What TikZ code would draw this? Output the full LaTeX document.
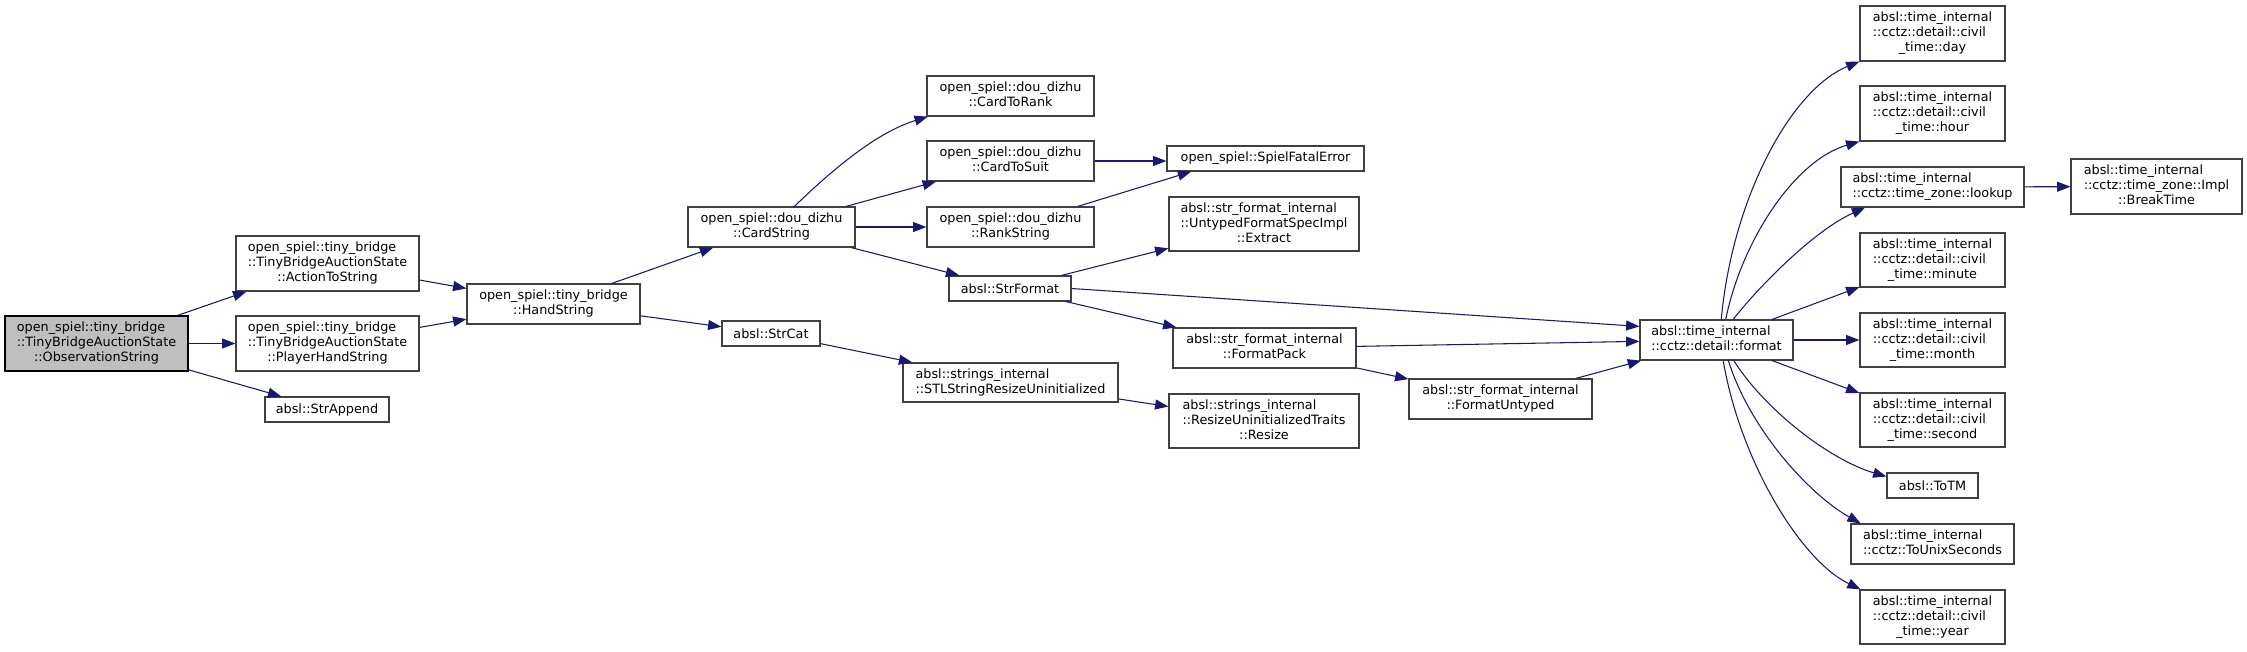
\documentclass[tikz,border=0pt]{standalone}
\usepackage{fontspec}
\setmainfont{DejaVu Sans}
\usetikzlibrary{arrows.meta}
\definecolor{edgecol}{HTML}{191970}
\definecolor{boxborder}{HTML}{404040}
\definecolor{rootfill}{HTML}{BFBFBF}
\newcommand\Lines[2]{\begin{tabular}{@{}l@{}}#1\\\multicolumn{1}{@{}c@{}}{#2}\end{tabular}}
\newcommand\mkbox[7][]{\node[gbox,#1,minimum width={(#5-#3)*0.75pt},minimum height={(#6-#4)*0.75pt}] (#2) at ({(#3+#5)/2},{(#4+#6)/2}) {#7};}
\tikzset{
  gbox/.style={draw=boxborder, fill=white, line width=0.9pt, inner sep=0pt,
    font=\fontsize{9.6pt}{11.25pt}\selectfont},
  gedge/.style={draw=edgecol, line width=0.8pt, -{Triangle[length=10pt,width=7.5pt]}}
}
\begin{document}
\begin{tikzpicture}[x=0.75pt,y=-0.75pt]
\useasboundingbox (0,0) rectangle (2247,651);
% nodes
\mkbox[fill=rootfill,draw=black]{obs}{5}{316}{188}{371}{\Lines{open\_spiel::tiny\_bridge\\::TinyBridgeAuctionState}{::ObservationString}}
\mkbox{act}{236}{236}{419}{291}{\Lines{open\_spiel::tiny\_bridge\\::TinyBridgeAuctionState}{::ActionToString}}
\mkbox{phs}{236}{316}{419}{371}{\Lines{open\_spiel::tiny\_bridge\\::TinyBridgeAuctionState}{::PlayerHandString}}
\mkbox{sapp}{265}{397}{389}{422}{absl::StrAppend}
\mkbox{hand}{467}{284}{640}{324}{\Lines{open\_spiel::tiny\_bridge}{::HandString}}
\mkbox{cstr}{688}{207}{855}{247}{\Lines{open\_spiel::dou\_dizhu}{::CardString}}
\mkbox{scat}{722}{321}{820}{346}{absl::StrCat}
\mkbox{crank}{927}{76}{1094}{116}{\Lines{open\_spiel::dou\_dizhu}{::CardToRank}}
\mkbox{csuit}{927}{141}{1094}{181}{\Lines{open\_spiel::dou\_dizhu}{::CardToSuit}}
\mkbox{rstr}{927}{207}{1094}{247}{\Lines{open\_spiel::dou\_dizhu}{::RankString}}
\mkbox{sfmt}{949}{276}{1071}{301}{absl::StrFormat}
\mkbox{sfe}{1167}{146}{1364}{171}{open\_spiel::SpielFatalError}
\mkbox{extr}{1169}{197}{1359}{251}{\Lines{absl::str\_format\_internal\\::UntypedFormatSpecImpl}{::Extract}}
\mkbox{fpack}{1173}{328}{1356}{368}{\Lines{absl::str\_format\_internal}{::FormatPack}}
\mkbox{stl}{903}{363}{1118}{402}{\Lines{absl::strings\_internal}{::STLStringResizeUninitialized}}
\mkbox{resize}{1169}{394}{1359}{448}{\Lines{absl::strings\_internal\\::ResizeUninitializedTraits}{::Resize}}
\mkbox{funt}{1409}{379}{1592}{419}{\Lines{absl::str\_format\_internal}{::FormatUntyped}}
\mkbox{fmt}{1640}{320}{1793}{360}{\Lines{absl::time\_internal}{::cctz::detail::format}}
\mkbox{day}{1860}{6}{2005}{61}{\Lines{absl::time\_internal\\::cctz::detail::civil}{\_time::day}}
\mkbox{hour}{1860}{86}{2005}{141}{\Lines{absl::time\_internal\\::cctz::detail::civil}{\_time::hour}}
\mkbox{lookup}{1841}{167}{2024}{207}{\Lines{absl::time\_internal}{::cctz::time\_zone::lookup}}
\mkbox{btime}{2071}{159}{2242}{214}{\Lines{absl::time\_internal\\::cctz::time\_zone::Impl}{::BreakTime}}
\mkbox{minute}{1860}{233}{2005}{287}{\Lines{absl::time\_internal\\::cctz::detail::civil}{\_time::minute}}
\mkbox{month}{1860}{313}{2005}{367}{\Lines{absl::time\_internal\\::cctz::detail::civil}{\_time::month}}
\mkbox{second}{1860}{393}{2005}{447}{\Lines{absl::time\_internal\\::cctz::detail::civil}{\_time::second}}
\mkbox{totm}{1887}{473}{1978}{498}{absl::ToTM}
\mkbox{unix}{1851}{524}{2014}{564}{\Lines{absl::time\_internal}{::cctz::ToUnixSeconds}}
\mkbox{year}{1860}{590}{2005}{644}{\Lines{absl::time\_internal\\::cctz::detail::civil}{\_time::year}}
% edges
\draw[gedge] (obs) -- (act);
\draw[gedge] (obs) -- (phs);
\draw[gedge] (obs) -- (sapp);
\draw[gedge] (act) -- (hand);
\draw[gedge] (phs) -- (hand);
\draw[gedge] (hand) -- (cstr);
\draw[gedge] (hand) -- (scat);
\draw[gedge] (cstr.42) .. controls (830,172) and (875,133) .. (crank.194);
\draw[gedge] (cstr) -- (csuit);
\draw[gedge] (cstr) -- (rstr);
\draw[gedge] (cstr) -- (sfmt);
\draw[gedge] (csuit.east) -- (csuit.east -| sfe.west);
\draw[gedge] (rstr) -- (sfe.190);
\draw[gedge] (sfmt) -- (extr);
\draw[gedge] (sfmt.east) -- (fmt.170);
\draw[gedge] (sfmt) -- (fpack);
\draw[gedge] (fpack) -- (fmt);
\draw[gedge] (fpack) -- (funt);
\draw[gedge] (funt) -- (fmt);
\draw[gedge] (scat) -- (stl);
\draw[gedge] (stl) -- (resize);
\draw[gedge] (fmt.77) .. controls (1732,200) and (1790,90) .. (day.201);
\draw[gedge] (fmt.66) .. controls (1742,240) and (1795,160) .. (hour.201);
\draw[gedge] (fmt.51) .. controls (1760,285) and (1815,230) .. (lookup.197);
\draw[gedge] (fmt) -- (minute);
\draw[gedge] (fmt) -- (month);
\draw[gedge] (fmt) -- (second);
\draw[gedge] (fmt.310) .. controls (1765,410) and (1830,460) .. (totm.169);
\draw[gedge] (fmt.300) .. controls (1750,430) and (1810,495) .. (unix.164);
\draw[gedge] (fmt.288) .. controls (1740,460) and (1800,560) .. (year.159);
\draw[gedge] (lookup) -- (btime);
\end{tikzpicture}
\end{document}
